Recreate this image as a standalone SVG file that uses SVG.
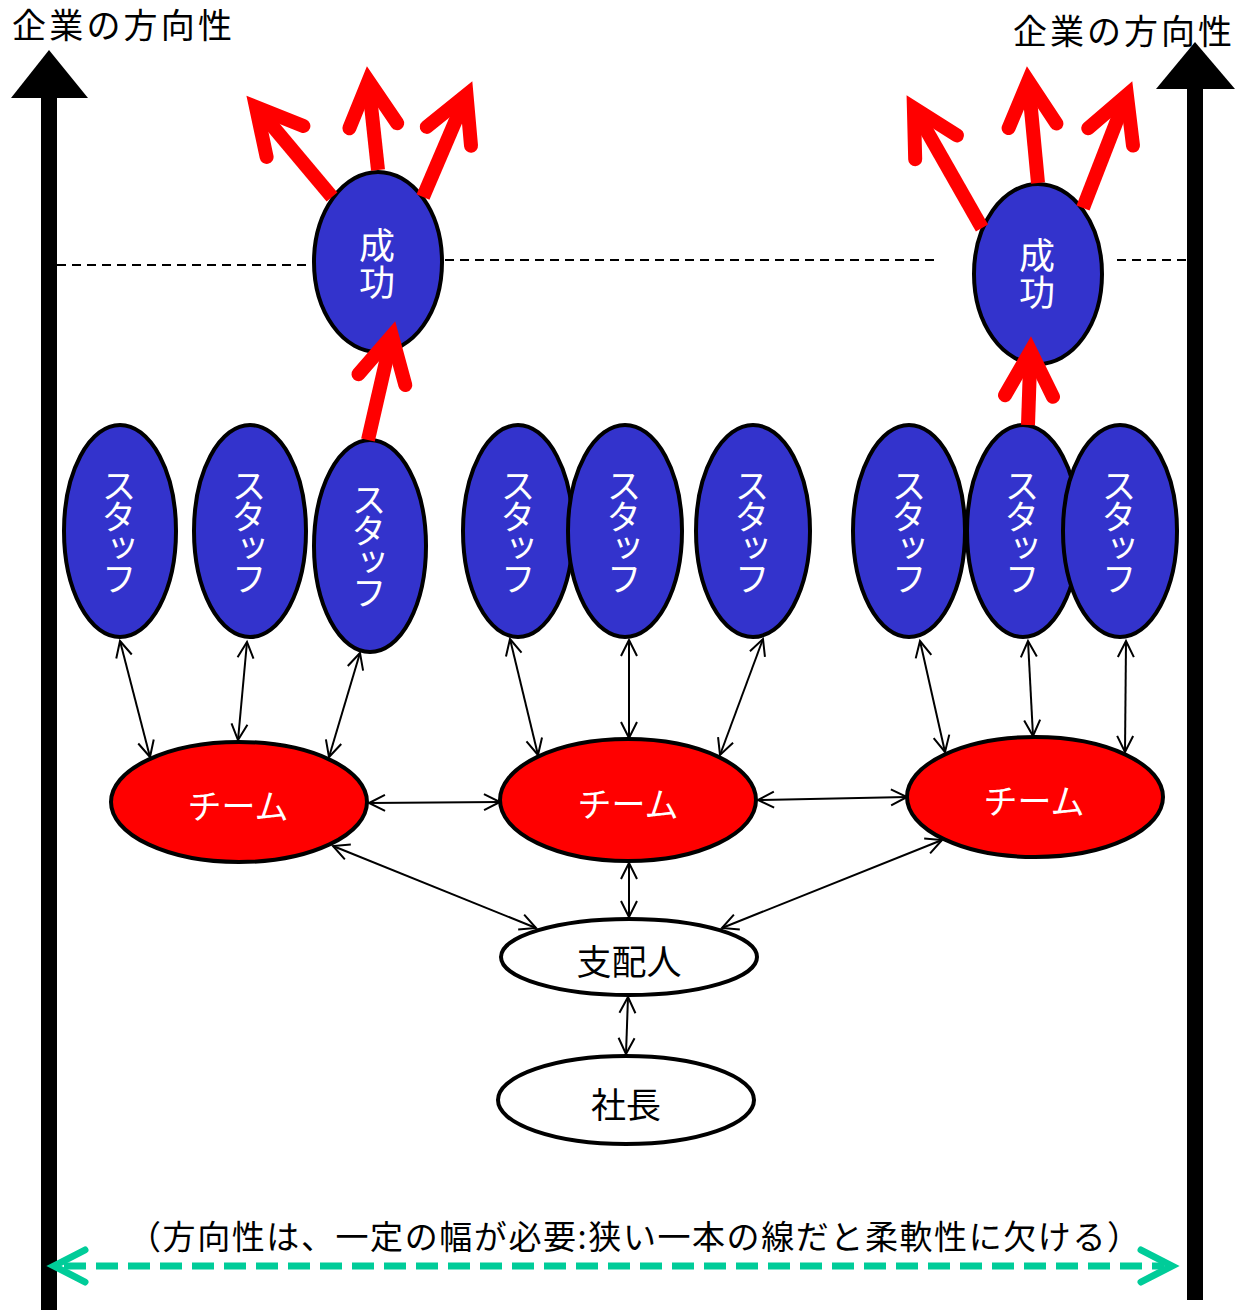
<svg xmlns="http://www.w3.org/2000/svg" width="1242" height="1310" viewBox="0 0 1242 1310">
<defs>
<style>
.t{font-family:"Noto Sans CJK JP","Noto Sans",sans-serif;}
.blue{fill:#3333CC;stroke:#000;stroke-width:4;}
.red{fill:#FF0000;stroke:#000;stroke-width:4;}
.white{fill:#FFFFFF;stroke:#000;stroke-width:4;}
.wt{fill:#FFFFFF;font-size:34px;text-anchor:middle;}
.vt{fill:#FFFFFF;font-size:35px;writing-mode:vertical-rl;text-anchor:start;letter-spacing:-4px;}
.vs{fill:#FFFFFF;font-size:36px;writing-mode:vertical-rl;text-anchor:start;letter-spacing:1px;}
.bt{fill:#000;font-size:35px;text-anchor:middle;}
.ttl{fill:#000;font-size:34px;}
.conn{stroke:#000;stroke-width:2;fill:none;marker-start:url(#oa);marker-end:url(#oa);}
.shaft{stroke:#FF0000;stroke-width:14;fill:none;stroke-linecap:butt;}
.head{stroke:#FF0000;stroke-width:14;fill:none;stroke-linecap:round;stroke-linejoin:miter;stroke-miterlimit:10;}
.dash{stroke:#000;stroke-width:2;stroke-dasharray:9 6;fill:none;}
</style>
<marker id="oa" markerUnits="userSpaceOnUse" viewBox="-20 -12 24 24" refX="0" refY="0" markerWidth="24" markerHeight="24" orient="auto-start-reverse">
<path d="M-16,-8 L0,0 L-16,8" fill="none" stroke="#000" stroke-width="2"/>
</marker>
</defs>
<rect width="1242" height="1310" fill="#FFFFFF"/>

<g id="direction-left">
<rect x="41" y="96" width="16" height="1214" fill="#000"/>
<polygon points="49,50 11,98 88,98" fill="#000"/>
<text class="t ttl" x="12" y="38" textLength="220" lengthAdjust="spacing">企業の方向性</text>
</g>
<g id="direction-right">
<rect x="1187" y="87" width="16" height="1213" fill="#000"/>
<polygon points="1195,42 1156,89 1235,89" fill="#000"/>
<text class="t ttl" x="1013" y="44" textLength="219" lengthAdjust="spacing">企業の方向性</text>
</g>

<g id="success-lines">
<line class="dash" x1="57" y1="265" x2="312" y2="265"/>
<line class="dash" x1="445" y1="260" x2="940" y2="260"/>
<line class="dash" x1="1117" y1="260" x2="1186" y2="260"/>
</g>

<g id="success-left">
<ellipse class="blue" cx="378" cy="262" rx="64" ry="90"/>
<text class="t vs" x="377" y="227">成功</text>
</g>
<g id="success-right">
<ellipse class="blue" cx="1038" cy="274" rx="64" ry="90"/>
<text class="t vs" x="1037" y="237">成功</text>
</g>

<g id="staff-1"><ellipse class="blue" cx="120" cy="531" rx="56" ry="106"/>
<text class="t vt" x="119" y="468">スタッフ</text></g>
<g id="staff-2"><ellipse class="blue" cx="250" cy="531" rx="56" ry="106"/>
<text class="t vt" x="249" y="468">スタッフ</text></g>
<g id="staff-3"><ellipse class="blue" cx="370" cy="546" rx="56" ry="106"/>
<text class="t vt" x="369" y="482">スタッフ</text></g>

<g id="staff-4"><ellipse class="blue" cx="518" cy="531" rx="55" ry="106"/>
<text class="t vt" x="518" y="468">スタッフ</text></g>
<g id="staff-5"><ellipse class="blue" cx="625" cy="531" rx="57" ry="106"/>
<text class="t vt" x="624" y="468">スタッフ</text></g>
<g id="staff-6"><ellipse class="blue" cx="753" cy="531" rx="57" ry="106"/>
<text class="t vt" x="752" y="468">スタッフ</text></g>

<g id="staff-7"><ellipse class="blue" cx="909" cy="531" rx="56" ry="106"/>
<text class="t vt" x="909" y="468">スタッフ</text></g>
<g id="staff-8"><ellipse class="blue" cx="1023" cy="531" rx="56" ry="106"/>
<text class="t vt" x="1022" y="468">スタッフ</text></g>
<g id="staff-9"><ellipse class="blue" cx="1120" cy="531" rx="57" ry="106"/>
<text class="t vt" x="1119" y="468">スタッフ</text></g>

<g id="team-left"><ellipse class="red" cx="239" cy="802" rx="128" ry="60"/>
<text class="t wt" x="238" y="819">チーム</text></g>
<g id="team-mid"><ellipse class="red" cx="628" cy="800" rx="128" ry="61"/>
<text class="t wt" x="628" y="817">チーム</text></g>
<g id="team-right"><ellipse class="red" cx="1035" cy="797" rx="128" ry="60"/>
<text class="t wt" x="1034" y="814">チーム</text></g>

<g id="manager"><ellipse class="white" cx="629" cy="957" rx="128" ry="38"/>
<text class="t bt" x="629" y="975">支配人</text></g>
<g id="president"><ellipse class="white" cx="626" cy="1100" rx="128" ry="44"/>
<text class="t bt" x="626" y="1118">社長</text></g>

<g id="success-arrows">
<line class="shaft" x1="332" y1="197" x2="259" y2="110"/>
<path class="head" d="M266.6,156.9 L256,107 L303.4,125.9"/>
<line class="shaft" x1="378" y1="170" x2="368.7" y2="84"/>
<path class="head" d="M349.4,128.2 L368.5,81 L397.2,123.2"/>
<line class="shaft" x1="423" y1="197" x2="465.5" y2="97.5"/>
<path class="head" d="M426.8,126.9 L466.5,94.9 L471,145.7"/>
<line class="shaft" x1="368" y1="440" x2="391.3" y2="338.5"/>
<path class="head" d="M358.5,374.2 L391.9,335.7 L405.3,385"/>

<line class="shaft" x1="982" y1="228" x2="915.3" y2="110.8"/>
<path class="head" d="M915.2,159.2 L913.9,108.2 L957,135.4"/>
<line class="shaft" x1="1038" y1="183" x2="1028.6" y2="84"/>
<path class="head" d="M1008.6,128.1 L1028.3,81 L1056.4,123.5"/>
<line class="shaft" x1="1083" y1="208" x2="1125.8" y2="97.8"/>
<path class="head" d="M1088.2,128.2 L1126.9,95 L1133,145.6"/>
<line class="shaft" x1="1028" y1="425" x2="1030.4" y2="354"/>
<path class="head" d="M1005,395.2 L1030.5,351 L1053,396.8"/>
</g>

<g id="connectors">
<line class="conn" x1="120" y1="641" x2="150" y2="757"/>
<line class="conn" x1="247" y1="642" x2="238" y2="740"/>
<line class="conn" x1="360" y1="653" x2="329" y2="757"/>
<line class="conn" x1="510" y1="639" x2="538" y2="755"/>
<line class="conn" x1="629" y1="640" x2="629" y2="738"/>
<line class="conn" x1="763" y1="639" x2="720" y2="755"/>
<line class="conn" x1="920" y1="641" x2="945" y2="752"/>
<line class="conn" x1="1028" y1="641" x2="1033" y2="736"/>
<line class="conn" x1="1126" y1="641" x2="1125" y2="752"/>
<line class="conn" x1="369" y1="803" x2="500" y2="802"/>
<line class="conn" x1="758" y1="800" x2="907" y2="797"/>
<line class="conn" x1="333" y1="846" x2="536" y2="928"/>
<line class="conn" x1="629" y1="863" x2="629" y2="917"/>
<line class="conn" x1="942" y1="840" x2="722" y2="928"/>
<line class="conn" x1="628" y1="997" x2="626" y2="1054"/>
</g>

<g id="width-note">
<text class="t" x="128" y="1249" font-size="33" fill="#000" textLength="1012" lengthAdjust="spacing">（方向性は、一定の幅が必要:狭い一本の線だと柔軟性に欠ける）</text>
<line x1="64" y1="1266" x2="1164" y2="1266" stroke="#00CC99" stroke-width="7" stroke-dasharray="22 10"/>
<path d="M85,1250 L54,1266 L85,1282" fill="none" stroke="#00CC99" stroke-width="7" stroke-linecap="round" stroke-linejoin="miter"/>
<path d="M1141,1250 L1172,1266 L1141,1282" fill="none" stroke="#00CC99" stroke-width="7" stroke-linecap="round" stroke-linejoin="miter"/>
</g>
</svg>
